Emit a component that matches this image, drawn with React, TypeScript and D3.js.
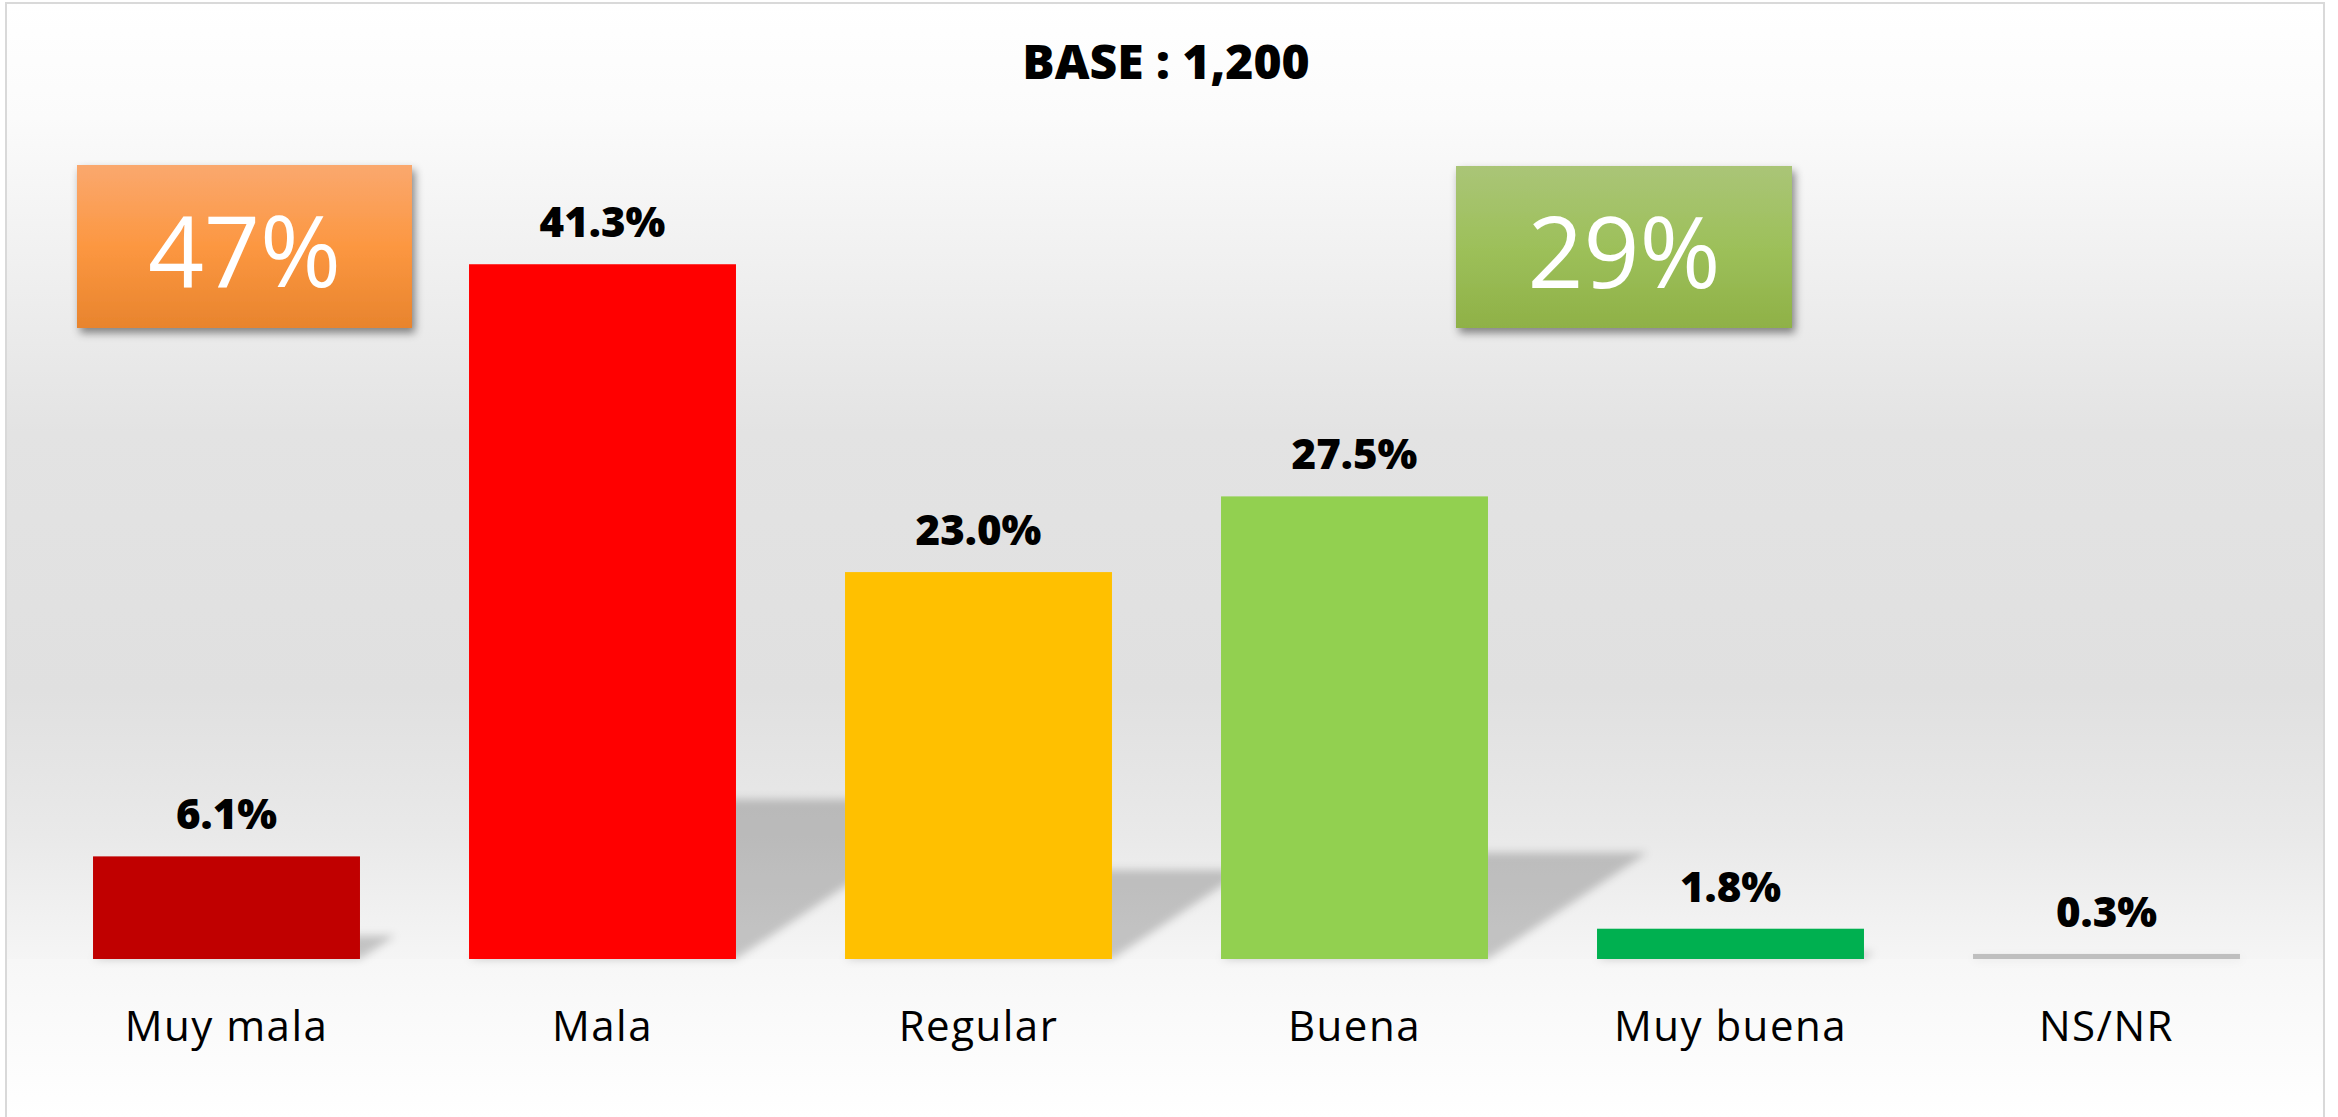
import React from "react";
import * as d3 from "d3";

// Survey results
const categories = ["Muy mala", "Mala", "Regular", "Buena", "Muy buena", "NS/NR"];
const values = [6.1, 41.3, 23.0, 27.5, 1.8, 0.3];
const barColors = ["#C00000", "#FF0000", "#FFC000", "#92D050", "#00B050", "#BFBFBF"];
const title = "BASE : 1,200";

// summary boxes: negative = Muy mala + Mala, positive = Buena + Muy buena
const negativeCats = ["Muy mala", "Mala"];
const positiveCats = ["Buena", "Muy buena"];

const W = 2338;
const H = 1117;
const FONT = "'Open Sans', 'Noto Sans', sans-serif";

const App = () => {
  const x = d3
    .scaleBand<string>()
    .domain(categories)
    .range([38.5, 2294.5])
    .paddingInner(0.29)
    .paddingOuter(0.145);

  const y = d3.scaleLinear().domain([0, 45]).range([959, 202]);
  const base = y(0);

  const sumOf = (cats: string[]) =>
    Math.round(d3.sum(cats, (c) => values[categories.indexOf(c)]));
  const negative = sumOf(negativeCats);
  const positive = sumOf(positiveCats);

  // perspective shadow behind each bar
  const shadowPath = (i: number) => {
    const x0 = x(categories[i])!;
    const x1 = x0 + x.bandwidth();
    const kh = (base - y(values[i])) * 0.23;
    const s = kh * 1.5;
    return `M${x0},${base}L${x1},${base}L${x1 + s},${base - kh}L${x0 + s},${base - kh}Z`;
  };

  const boxes = [
    { label: `${negative}%`, x: 77, y: 165, w: 335, h: 163, grad: "url(#gradOrange)" },
    { label: `${positive}%`, x: 1456, y: 166, w: 336, h: 162, grad: "url(#gradGreen)" },
  ];

  return (
    <div style={{ position: "absolute", left: 0, top: 0 }}>
      <svg width={W} height={H} style={{ display: "block" }}>
        <defs>
          <linearGradient id="bgPlot" x1="0" y1="0" x2="0" y2="1">
            <stop offset="0" stopColor="#ffffff" />
            <stop offset="0.12" stopColor="#fbfbfb" />
            <stop offset="0.3" stopColor="#eeeeee" />
            <stop offset="0.45" stopColor="#e3e3e3" />
            <stop offset="0.72" stopColor="#e0e0e0" />
            <stop offset="0.87" stopColor="#e9e9e9" />
            <stop offset="1" stopColor="#f5f5f5" />
          </linearGradient>
          <linearGradient id="bgFloor" x1="0" y1="0" x2="0" y2="1">
            <stop offset="0" stopColor="#f7f7f7" />
            <stop offset="1" stopColor="#ffffff" />
          </linearGradient>
          <linearGradient id="gradOrange" x1="0" y1="0" x2="0" y2="1">
            <stop offset="0" stopColor="#FAA86E" />
            <stop offset="0.5" stopColor="#FC9741" />
            <stop offset="1" stopColor="#E8842D" />
          </linearGradient>
          <linearGradient id="gradGreen" x1="0" y1="0" x2="0" y2="1">
            <stop offset="0" stopColor="#AAC577" />
            <stop offset="0.5" stopColor="#9DC05A" />
            <stop offset="1" stopColor="#8FB147" />
          </linearGradient>
          <filter id="blurShadow" x="-20%" y="-20%" width="140%" height="140%">
            <feGaussianBlur stdDeviation="4" />
          </filter>
          <filter id="boxShadow" x="-10%" y="-10%" width="125%" height="130%">
            <feDropShadow dx="3" dy="5" stdDeviation="4" floodColor="#000" floodOpacity="0.45" />
          </filter>
        </defs>

        <rect x={0} y={0} width={W} height={H} fill="#ffffff" />
        <rect x={6} y={3} width={2318} height={base - 3} fill="url(#bgPlot)" />
        <rect x={6} y={base} width={2318} height={H - base} fill="url(#bgFloor)" />
        <path d={`M6,${H}V3H2324V${H}`} fill="none" stroke="#d9d9d9" strokeWidth={2} />

        <text
          x={1166}
          y={79}
          textAnchor="middle"
          fontFamily={FONT}
          fontWeight={800}
          fontSize={48}
          fill="#000"
        >
          {title}
        </text>

        {/* bar shadows */}
        <g filter="url(#blurShadow)">
          {categories.map((c, i) => (
            <path key={c} d={shadowPath(i)} fill="#000" fillOpacity={0.2} />
          ))}
        </g>

        {/* bars */}
        {categories.map((c, i) => (
          <rect
            key={c}
            x={x(c)}
            y={y(values[i])}
            width={x.bandwidth()}
            height={base - y(values[i])}
            fill={barColors[i]}
          />
        ))}

        {/* value labels */}
        {categories.map((c, i) => (
          <text
            key={c}
            x={x(c)! + x.bandwidth() / 2}
            y={y(values[i]) - 27}
            textAnchor="middle"
            fontFamily={FONT}
            fontWeight={800}
            fontSize={42}
            fill="#000"
          >
            {values[i].toFixed(1)}%
          </text>
        ))}

        {/* category labels */}
        {categories.map((c) => (
          <text
            key={c}
            x={x(c)! + x.bandwidth() / 2}
            y={1041}
            textAnchor="middle"
            fontFamily={FONT}
            fontSize={42}
            letterSpacing={1.5}
            fill="#000"
          >
            {c}
          </text>
        ))}

        {/* summary boxes */}
        {boxes.map((b) => (
          <g key={b.label}>
            <rect x={b.x} y={b.y} width={b.w} height={b.h} fill={b.grad} filter="url(#boxShadow)" />
            <text
              x={b.x + b.w / 2}
              y={b.y + 122}
              textAnchor="middle"
              fontFamily={FONT}
              fontWeight={400}
              fontSize={98}
              fill="#ffffff"
            >
              {b.label}
            </text>
          </g>
        ))}
      </svg>
    </div>
  );
};

export default App;
